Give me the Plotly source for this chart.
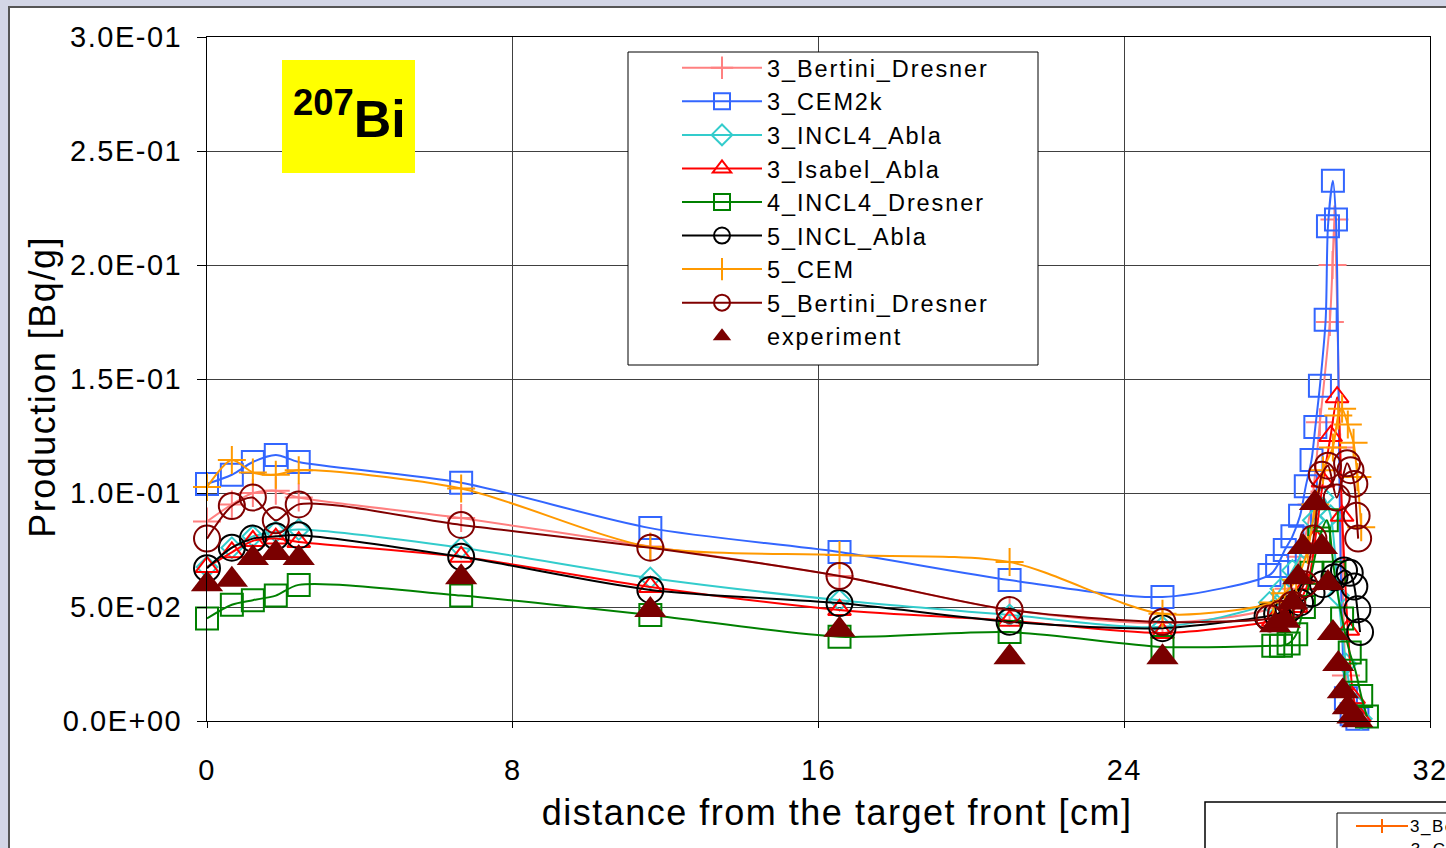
import plotly.graph_objects as go

# ---------------- data ----------------
bd3_x = [0, 0.65, 1.2, 1.8, 2.4, 6.65, 11.6, 16.55, 21.0, 25.0, 27.9, 28.3, 28.6, 28.9, 29.12, 29.38, 29.45, 29.5, 29.65, 29.8, 29.95]
bd3_y = [0.0875, 0.095, 0.100, 0.101, 0.098, 0.089, 0.0765, 0.0636, 0.0487, 0.043, 0.050, 0.058, 0.072, 0.095, 0.131, 0.175, 0.200, 0.220, 0.120, 0.020, 0.004]

cem2k_x = [0, 0.65, 1.2, 1.8, 2.4, 6.65, 11.6, 16.55, 21.0, 25.0, 27.8, 28.0, 28.2, 28.4, 28.6, 28.75, 28.9, 29.0, 29.12, 29.27, 29.33, 29.46, 29.54, 29.8, 29.95, 30.1]
cem2k_y = [0.104, 0.108, 0.1136, 0.1167, 0.1136, 0.1045, 0.0846, 0.0741, 0.0618, 0.0544, 0.064, 0.068, 0.075, 0.081, 0.090, 0.103, 0.1145, 0.129, 0.147, 0.176, 0.217, 0.237, 0.220, 0.010, 0.003, 0.001]

incl4abla_x = [0, 0.65, 1.2, 1.8, 2.4, 6.65, 11.6, 16.55, 21.0, 25.0, 27.8, 28.1, 28.4, 28.7, 28.95, 29.2, 29.4, 29.6, 29.8, 30.0, 30.2]
incl4abla_y = [0.0675, 0.076, 0.081, 0.083, 0.084, 0.076, 0.0627, 0.053, 0.0465, 0.0413, 0.052, 0.058, 0.066, 0.076, 0.088, 0.098, 0.090, 0.055, 0.025, 0.008, 0.001]

isabel_x = [0, 0.65, 1.2, 1.8, 2.4, 6.65, 11.6, 16.55, 21.0, 25.0, 27.9, 28.2, 28.5, 28.8, 29.0, 29.2, 29.4, 29.57, 29.7, 29.85, 30.0, 30.15]
isabel_y = [0.0675, 0.074, 0.079, 0.080, 0.0785, 0.072, 0.0588, 0.0487, 0.044, 0.0386, 0.044, 0.046, 0.050, 0.060, 0.080, 0.105, 0.125, 0.142, 0.090, 0.040, 0.010, 0.002]

incl4dres_x = [0, 0.65, 1.2, 1.8, 2.4, 6.65, 11.6, 16.55, 21.0, 25.0, 27.9, 28.1, 28.3, 28.5, 28.7, 28.9, 29.1, 29.3, 29.5, 29.7, 29.9, 30.05, 30.2, 30.35]
incl4dres_y = [0.045, 0.051, 0.053, 0.055, 0.0597, 0.055, 0.0465, 0.037, 0.039, 0.0325, 0.033, 0.033, 0.034, 0.038, 0.050, 0.065, 0.080, 0.088, 0.065, 0.045, 0.030, 0.022, 0.011, 0.002]

inclabla_x = [0, 0.65, 1.2, 1.8, 2.4, 6.65, 11.6, 16.55, 21.0, 25.0, 27.75, 28.0, 28.3, 28.6, 28.9, 29.2, 29.5, 29.75, 29.9, 30.02, 30.1, 30.17]
inclabla_y = [0.067, 0.076, 0.080, 0.081, 0.0815, 0.072, 0.0575, 0.0517, 0.0435, 0.0407, 0.046, 0.047, 0.049, 0.052, 0.056, 0.060, 0.063, 0.066, 0.065, 0.059, 0.049, 0.039]

cem5_x = [0, 0.65, 1.2, 1.8, 2.4, 6.65, 11.6, 16.55, 21.0, 25.0, 27.9, 28.2, 28.5, 28.8, 29.0, 29.2, 29.46, 29.6, 29.7, 29.85, 30.0, 30.1, 30.2]
cem5_y = [0.1026, 0.1145, 0.109, 0.108, 0.110, 0.102, 0.0763, 0.0728, 0.0697, 0.047, 0.052, 0.056, 0.062, 0.075, 0.095, 0.110, 0.120, 0.134, 0.137, 0.130, 0.122, 0.107, 0.085]

bd5_x = [0, 0.65, 1.2, 1.8, 2.4, 6.65, 11.6, 16.55, 21.0, 25.0, 27.8, 28.1, 28.4, 28.7, 28.95, 29.17, 29.33, 29.56, 29.83, 29.92, 30.02, 30.08, 30.12]
bd5_y = [0.080, 0.0943, 0.098, 0.088, 0.095, 0.086, 0.076, 0.0636, 0.0487, 0.0434, 0.045, 0.047, 0.051, 0.060, 0.080, 0.108, 0.112, 0.098, 0.113, 0.110, 0.104, 0.090, 0.080]

exp_x = [0, 0.65, 1.2, 1.8, 2.4, 6.65, 11.6, 16.55, 21.0, 25.0, 27.95, 28.2, 28.4, 28.55, 28.68, 28.99, 29.17, 29.33, 29.46, 29.6, 29.72, 29.85, 29.97, 30.1]
exp_y = [0.060, 0.062, 0.0715, 0.0737, 0.0715, 0.063, 0.0487, 0.040, 0.028, 0.028, 0.042, 0.044, 0.052, 0.063, 0.0763, 0.0956, 0.0763, 0.0605, 0.0386, 0.025, 0.013, 0.006, 0.002, 0.0003]

x_ticks = [0, 8, 16, 24, 32]
y_ticks = [0.0, 0.05, 0.10, 0.15, 0.20, 0.25, 0.30]
y_ticktext = ["0.0E+00", "5.0E-02", "1.0E-01", "1.5E-01", "2.0E-01", "2.5E-01", "3.0E-01"]

FONT = "Liberation Sans, Arial, sans-serif"

series = [
    ("3_Bertini_Dresner", bd3_x, bd3_y, "#ff8080", "cross-thin-open", 20),
    ("3_CEM2k", cem2k_x, cem2k_y, "#3366ff", "square-open", 22),
    ("3_INCL4_Abla", incl4abla_x, incl4abla_y, "#33cccc", "diamond-open", 16),
    ("3_Isabel_Abla", isabel_x, isabel_y, "#ff0000", "triangle-up-open", 20),
    ("4_INCL4_Dresner", incl4dres_x, incl4dres_y, "#008000", "square-open", 22),
    ("5_INCL_Abla", inclabla_x, inclabla_y, "#000000", "circle-open", 26),
    ("5_CEM", cem5_x, cem5_y, "#ff9900", "cross-thin-open", 20),
    ("5_Bertini_Dresner", bd5_x, bd5_y, "#800000", "circle-open", 26),
]

fig = go.Figure()
for name, xs, ys, col, sym, sz in series:
    fig.add_trace(go.Scatter(
        x=xs, y=ys, name=name, mode="lines+markers",
        line=dict(color=col, width=2, shape="spline", smoothing=0.8),
        marker=dict(symbol=sym, size=sz, color=col, line=dict(color=col, width=2)),
        cliponaxis=False,
    ))
fig.add_trace(go.Scatter(
    x=exp_x, y=exp_y, name="experiment", mode="markers",
    marker=dict(symbol="triangle-up", size=28, color="#7a0000", line=dict(width=0)),
    cliponaxis=False,
))

L, T, R, B = 207, 37, 1430, 721
W, H = 1446, 848
def px(xp):
    return (xp - L) / (R - L)
def py(yp):
    return (B - yp) / (B - T)

shapes = [
    # outer white chart frame
    dict(type="rect", xref="paper", yref="paper", x0=px(9), x1=px(1470), y0=py(870), y1=py(7),
         fillcolor="white", line=dict(color="#555555", width=2), layer="below"),
    # legend box
    dict(type="rect", xref="paper", yref="paper", x0=px(628), x1=px(1038), y0=py(365), y1=py(52),
         fillcolor="white", line=dict(color="black", width=1), layer="above"),
    # yellow label box
    dict(type="rect", xref="paper", yref="paper", x0=px(282), x1=px(415), y0=py(173), y1=py(60),
         fillcolor="#ffff00", line=dict(width=0), layer="above"),
    # fragment of a second chart at bottom right
    dict(type="rect", xref="paper", yref="paper", x0=px(1205), x1=px(1480), y0=py(880), y1=py(802),
         fillcolor="white", line=dict(color="black", width=1.5), layer="above"),
    dict(type="rect", xref="paper", yref="paper", x0=px(1337), x1=px(1480), y0=py(880), y1=py(813),
         fillcolor="white", line=dict(color="black", width=1), layer="above"),
    dict(type="line", xref="paper", yref="paper", x0=px(1356), x1=px(1408), y0=py(826), y1=py(826),
         line=dict(color="#ff6600", width=2), layer="above"),
    dict(type="line", xref="paper", yref="paper", x0=px(1382), x1=px(1382), y0=py(833), y1=py(819),
         line=dict(color="#ff6600", width=2), layer="above"),
]

annotations = [
    dict(text="<b><sup>207</sup>Bi</b>", xref="paper", yref="paper", x=px(349), y=py(115),
         xanchor="center", yanchor="middle", showarrow=False,
         font=dict(family=FONT, size=52, color="black")),
    dict(text="Production [Bq/g]", xref="paper", yref="paper", x=px(42), y=py(387),
         xanchor="center", yanchor="middle", textangle=-90, showarrow=False,
         font=dict(family=FONT, size=36, color="black")),
    dict(text="distance from the target front [cm]", xref="paper", yref="paper", x=px(837), y=py(812),
         xanchor="center", yanchor="middle", showarrow=False,
         font=dict(family=FONT, size=36, color="black")),
    dict(text="3_Be", xref="paper", yref="paper", x=px(1411), y=py(826),
         xanchor="left", yanchor="middle", showarrow=False,
         font=dict(family=FONT, size=17, color="black")),
    dict(text="3_C", xref="paper", yref="paper", x=px(1411), y=py(849),
         xanchor="left", yanchor="middle", showarrow=False,
         font=dict(family=FONT, size=17, color="black")),
]

fig.update_layout(
    width=W, height=H,
    margin=dict(l=L, r=W - R, t=T, b=H - B, autoexpand=False),
    paper_bgcolor="#d3d6e6",
    plot_bgcolor="white",
    font=dict(family=FONT, color="black"),
    showlegend=True,
    legend=dict(x=px(677), y=py(46), xanchor="left", yanchor="top",
                bgcolor="rgba(0,0,0,0)", borderwidth=0,
                font=dict(family=FONT, size=23.5, color="black"),
                itemwidth=80, tracegroupgap=0),
    shapes=shapes,
    annotations=annotations,
    xaxis=dict(range=[0, 32], tickvals=x_ticks, ticktext=[str(v) for v in x_ticks],
               automargin=False, ticklabeloverflow="allow",
               showgrid=True, gridcolor="#404040", gridwidth=1,
               showline=True, linecolor="black", linewidth=1, mirror=True,
               ticks="outside", ticklen=6, tickcolor="black",
               tickfont=dict(family=FONT, size=29, color="black"),
               ticklabelstandoff=17, zeroline=False),
    yaxis=dict(range=[0, 0.30], tickvals=y_ticks, ticktext=y_ticktext,
               automargin=False, ticklabeloverflow="allow",
               showgrid=True, gridcolor="#404040", gridwidth=1,
               showline=True, linecolor="black", linewidth=1, mirror=True,
               ticks="outside", ticklen=9, tickcolor="black",
               tickfont=dict(family=FONT, size=29, color="black"),
               ticklabelstandoff=9, zeroline=False),
)

post = (
    "document.body.style.margin='0';document.body.style.overflow='hidden';"
    "var gd=document.getElementById('{plot_id}');"
    "gd.querySelectorAll('.xtick text, .ytick text, .annotation-text').forEach(function(t){"
    "  if(t.textContent.indexOf('Bi')<0){t.style.letterSpacing='1.5px';}});"
    "gd.querySelectorAll('.legendtext').forEach(function(t){t.style.letterSpacing='1.9px';});"
    "gd.querySelectorAll('.legend [clip-path], .legend').forEach(function(e){e.removeAttribute('clip-path');});"
)

fig.write_html("out.html", config={"displayModeBar": False}, post_script=post)
